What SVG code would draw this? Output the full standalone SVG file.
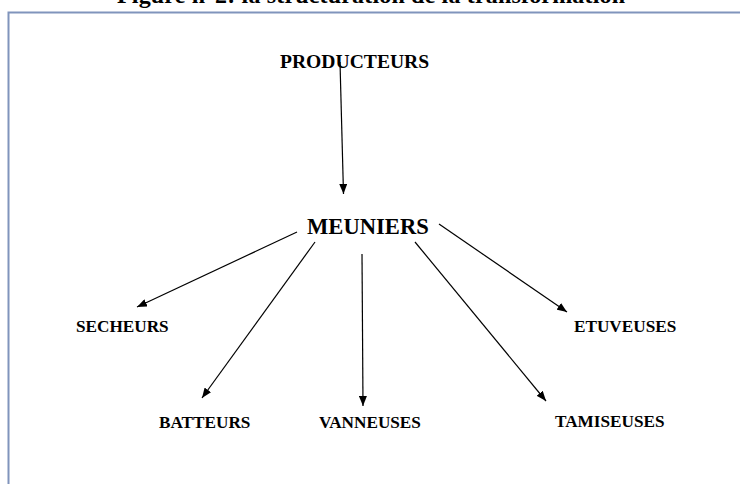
<svg xmlns="http://www.w3.org/2000/svg" width="740" height="484" viewBox="0 0 740 484">
<defs>
<marker id="ah" viewBox="0 0 10 8" refX="10" refY="4" markerWidth="10" markerHeight="8" markerUnits="userSpaceOnUse" orient="auto">
<path d="M0,0 L10,4 L0,8 z" fill="#000"/>
</marker>
<style>
.t{font-family:"Liberation Serif","Times New Roman",serif;font-weight:bold;fill:#000}
.s{font-size:17.2px}
.c line{stroke:#000;stroke-width:1.2;marker-end:url(#ah)}
</style>
</defs>
<rect width="740" height="484" fill="#fff"/>
<text class="t" x="117" y="3" font-size="24" textLength="508">Figure n°2: la structuration de la transformation</text>
<path d="M8.5 490 V12.5 H750" fill="none" stroke="#8094bc" stroke-width="2"/>
<g class="c" id="connectors">
<line x1="340" y1="62" x2="343.5" y2="194"/>
<line x1="297" y1="232" x2="137" y2="307"/>
<line x1="315" y1="242" x2="202" y2="398"/>
<line x1="362" y1="254" x2="363" y2="406"/>
<line x1="415" y1="242" x2="546" y2="401"/>
<line x1="439" y1="224" x2="567" y2="312"/>
</g>
<g id="producteurs"><text class="t" x="280" y="68" font-size="19.6">PRODUCTEURS</text></g>
<g id="meuniers"><text class="t" x="307" y="234" font-size="22.6">MEUNIERS</text></g>
<g id="secheurs"><text class="t s" x="76" y="332">SECHEURS</text></g>
<g id="etuveuses"><text class="t s" x="574" y="332">ETUVEUSES</text></g>
<g id="batteurs"><text class="t s" x="159" y="428">BATTEURS</text></g>
<g id="vanneuses"><text class="t s" x="319" y="428">VANNEUSES</text></g>
<g id="tamiseuses"><text class="t s" x="555" y="427">TAMISEUSES</text></g>
</svg>
